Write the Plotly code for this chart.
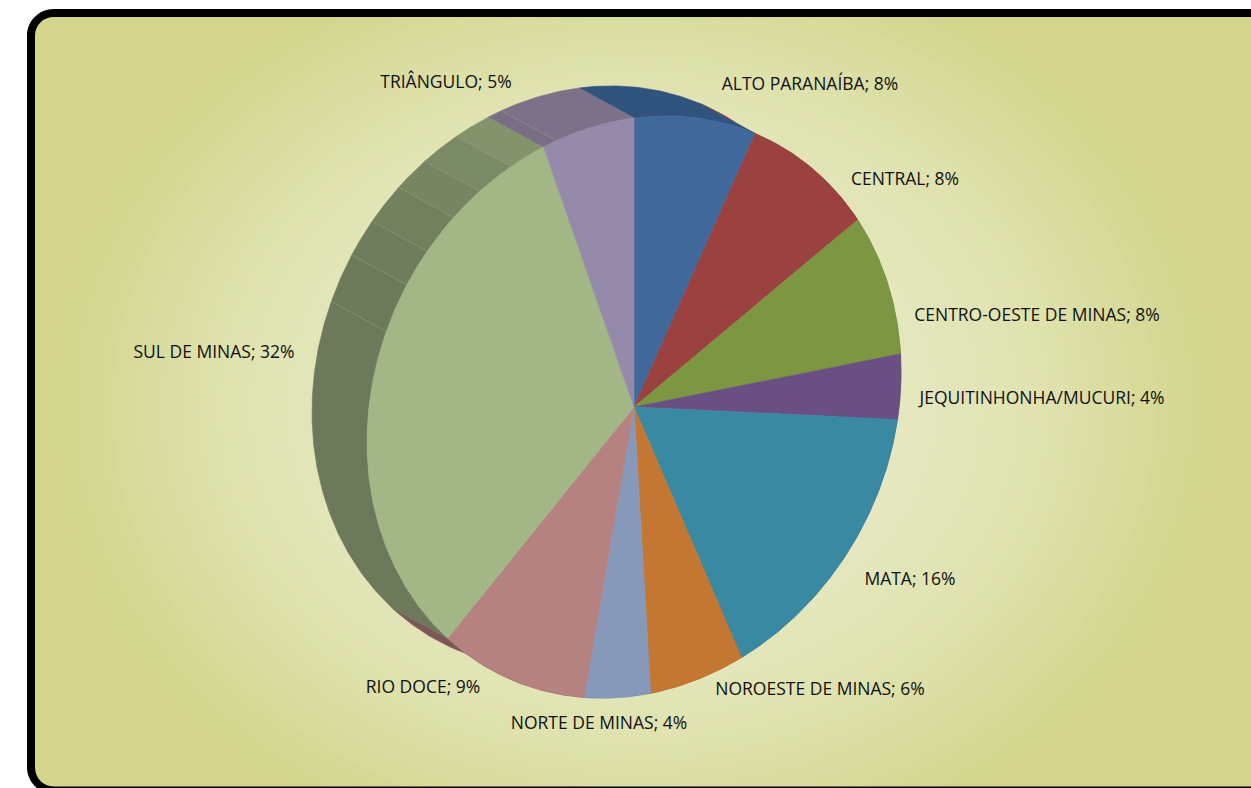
import numpy as np
import plotly.graph_objects as go

# ---- data -------------------------------------------------------------
categories = ["ALTO PARANAÍBA", "CENTRAL", "CENTRO-OESTE DE MINAS", "JEQUITINHONHA/MUCURI",
              "MATA", "NOROESTE DE MINAS", "NORTE DE MINAS", "RIO DOCE", "SUL DE MINAS", "TRIÂNGULO"]
# size of each slice
values = [7.5, 8.3, 8.2, 3.6, 15.8, 5.6, 4.0, 9.3, 32.2, 5.5]
# percentages as printed on the labels
printed_pct = [8, 8, 8, 4, 16, 6, 4, 9, 32, 5]

# ---- style ------------------------------------------------------------
front_colors = ["#41689B", "#9B4140", "#7D9642", "#6A5082", "#3A89A3",
                "#C37733", "#8799BB", "#B68280", "#A3B686", "#968AAA"]
side_colors = ["#30547E", "#8C3B3A", "#647835", "#553F68", "#2E6D82",
               "#9C5F29", "#6C7A96", "#7D5658", "#6C795A", "#7C7088"]
label_xy = [(810, 85.5), (905, 180.5), (1037, 316.5), (1042, 399.5), (910, 580.5),
            (820, 690.5), (599, 724.5), (423, 688.5), (214, 353.5), (446, 83.5)]
# shading bands on the rim (percent of the whole, band colour)
rim_bands = [(62.3, 81.1, "#6C795A"), (81.1, 83.8, "#6D7A5A"), (83.8, 85.9, "#707D5C"),
             (85.9, 88.2, "#73805E"), (88.2, 90.2, "#778562"), (90.2, 92.4, "#7C8B67"),
             (92.4, 94.5, "#84936C"), (94.5, 95.3, "#7A6E86"), (95.3, 100.0, "#7C7188")]
rim_lines = [81.1, 83.8, 85.9, 88.2, 90.2, 92.4, 95.3]

W, H = 1251, 788
CX, CY = 634, 407
UX, UY = 267, -35     # projected "3 o'clock" radius
VX, VY = 0, -289      # projected "12 o'clock" radius
DX, DY = -55, -30     # depth offset of the rear face


def rim(pct, back=False):
    t = np.asarray(pct, dtype=float) / 100 * 2 * np.pi
    x = CX + UX * np.sin(t) + VX * np.cos(t)
    y = CY + UY * np.sin(t) + VY * np.cos(t)
    return (x + DX, y + DY) if back else (x, y)


def band(p0, p1, n=None):
    return np.linspace(p0, p1, n or max(2, int((p1 - p0) * 6) + 2))


fig = go.Figure()


def add_poly(xs, ys, color, name):
    fig.add_trace(go.Scatter(x=xs, y=ys, mode="lines", fill="toself", fillcolor=color,
                             line=dict(color=color, width=0.6), name=name,
                             hoverinfo="name", showlegend=False))


cum = np.concatenate([[0], np.cumsum(values)])
cum = cum / cum[-1] * 100

# rear side walls: later slices first so the first slice overlaps the next
for i in [9, 8, 7, 6, 5, 4, 3, 2, 1, 0]:
    if categories[i] in ("SUL DE MINAS", "TRIÂNGULO"):
        continue
    p = band(cum[i], cum[i + 1])
    fx, fy = rim(p)
    bx, by = rim(p, back=True)
    add_poly(np.r_[fx, bx[::-1], fx[0]], np.r_[fy, by[::-1], fy[0]], side_colors[i], categories[i])

for p0, p1, c in rim_bands:
    p = band(p0, p1)
    fx, fy = rim(p)
    bx, by = rim(p, back=True)
    add_poly(np.r_[fx, bx[::-1], fx[0]], np.r_[fy, by[::-1], fy[0]], c, "rim")

for pct in rim_lines:
    fx, fy = rim([pct])
    bx, by = rim([pct], back=True)
    fig.add_trace(go.Scatter(x=[fx[0], bx[0]], y=[fy[0], by[0]], mode="lines",
                             line=dict(color="#8F9C7A", width=0.5),
                             hoverinfo="skip", showlegend=False))

# front face
for i, cat in enumerate(categories):
    p = band(cum[i], cum[i + 1])
    fx, fy = rim(p)
    add_poly(np.r_[CX, fx, CX], np.r_[CY, fy, CY], front_colors[i], cat)

# labels
texts = [f"{c}; {v}%" for c, v in zip(categories, printed_pct)]
fig.add_trace(go.Scatter(x=[a for a, _ in label_xy], y=[b for _, b in label_xy], text=texts,
                         mode="text", textposition="middle center",
                         textfont=dict(family="Open Sans", size=17.5, color="#111111"),
                         hoverinfo="skip", showlegend=False))

# background: radial glow
shapes = []
n = 90
c0 = np.array([0xF0, 0xF1, 0xE0])
c1 = np.array([0xE0, 0xE3, 0xB0])
c2 = np.array([0xD3, 0xD6, 0x8C])
for k in range(n, 0, -1):
    t = k / n
    col = c0 + (c1 - c0) * (t / 0.7) if t < 0.7 else c1 + (c2 - c1) * ((t - 0.7) / 0.3)
    rx, ry = 580 * t, 470 * t
    shapes.append(dict(type="circle", xref="x", yref="y", layer="below", line_width=0,
                       x0=CX - rx, x1=CX + rx, y0=CY - ry, y1=CY + ry,
                       fillcolor="rgb(%d,%d,%d)" % tuple(col)))

# outer white and black rounded frame
white = ("M0,0 L1300,0 L1300,9 L54,9 C39,9 27,21 27,36 L27,767 C27,782 39,794 54,794 "
         "L1300,794 L1300,800 L0,800 Z")
frame = ("M1300,9 L54,9 C39,9 27,21 27,36 L27,767 C27,782 39,794 54,794 L1300,794 L1300,786.5 "
         "L54,786.5 C43,786.5 35,778 35,767 L35,36 C35,25 43,17 54,17 L1300,17 Z")
shapes.append(dict(type="path", xref="x", yref="y", layer="above", path=white,
                   fillcolor="white", line_width=0))
shapes.append(dict(type="path", xref="x", yref="y", layer="above", path=frame,
                   fillcolor="black", line_width=0))

fig.update_layout(
    width=W, height=H, autosize=False,
    margin=dict(l=0, r=0, t=0, b=0),
    paper_bgcolor="white", plot_bgcolor="#D3D68C",
    xaxis=dict(range=[0, W], visible=False, fixedrange=True),
    yaxis=dict(range=[H, 0], visible=False, fixedrange=True),
    shapes=shapes, showlegend=False,
)
fig.write_html("out.html", config=dict(displayModeBar=False),
               post_script="document.body.style.margin='0';document.body.style.overflow='hidden';")
